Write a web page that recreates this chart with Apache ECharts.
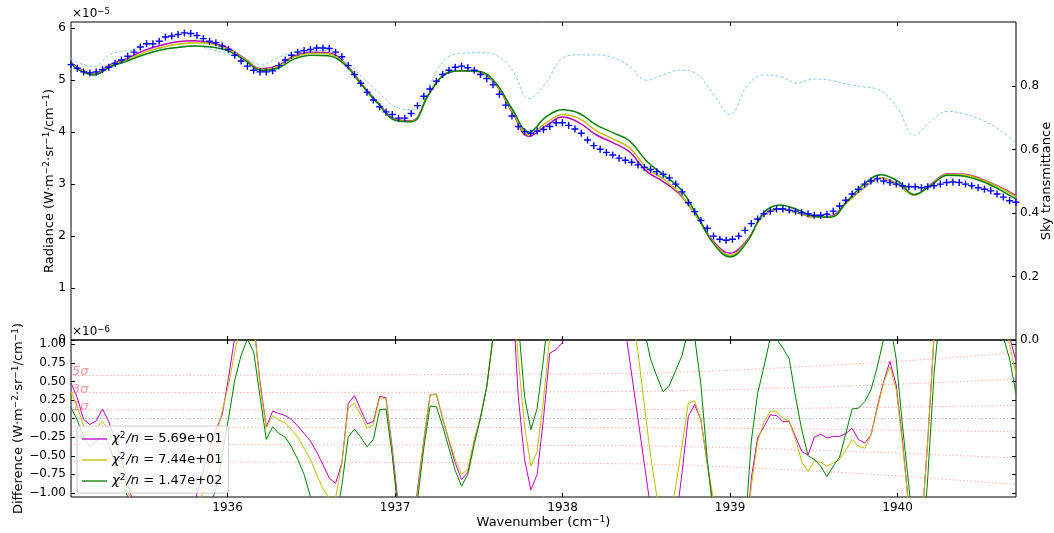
<!DOCTYPE html>
<html><head><meta charset="utf-8">
<script src="https://cdn.jsdelivr.net/npm/echarts@6/dist/echarts.min.js"></script>
<style>html,body{margin:0;padding:0;background:#fff}#c{width:1054px;height:533px}</style>
</head><body><div id="c"></div>
<script>
// ---------- data ----------
const xMin = 1935.065, xMax = 1940.707;
const obsStart = 1935.065, obsStep = 0.03761;   // spectral sampling grid of the measurement
const obsRadiance = [
5.30,5.23,5.16,5.14,5.16,5.20,5.25,5.32,5.39,5.46,
5.54,5.64,5.70,5.70,5.75,5.83,5.85,5.88,5.91,5.90,
5.86,5.80,5.75,5.72,5.66,5.59,5.48,5.37,5.27,5.19,
5.16,5.16,5.18,5.28,5.39,5.48,5.54,5.57,5.59,5.62,
5.62,5.61,5.54,5.45,5.28,5.11,4.94,4.77,4.62,4.49,
4.39,4.34,4.27,4.27,4.36,4.51,4.69,4.83,4.98,5.11,
5.19,5.25,5.27,5.24,5.19,5.11,5.03,4.91,4.73,4.52,
4.31,4.11,4.01,3.98,4.02,4.05,4.11,4.18,4.18,4.13,
4.06,3.98,3.85,3.74,3.67,3.61,3.56,3.50,3.46,3.42,
3.37,3.32,3.28,3.24,3.19,3.12,3.00,2.85,2.64,2.47,
2.30,2.15,2.00,1.94,1.92,1.94,2.00,2.11,2.24,2.33,
2.43,2.48,2.52,2.52,2.50,2.48,2.45,2.43,2.40,2.40,
2.42,2.48,2.58,2.69,2.81,2.90,3.00,3.06,3.10,3.06,
3.03,3.00,2.97,2.95,2.95,2.93,2.95,2.97,3.00,3.03,
3.04,3.03,3.00,2.97,2.93,2.90,2.87,2.81,2.75,2.68,
2.65];

const modelX = [1935.065,1935.1,1935.2,1935.3,1935.4,1935.5,1935.6,1935.7,1935.8,1935.9,
1936.0,1936.1,1936.2,1936.3,1936.4,1936.5,1936.6,1936.7,1936.8,1936.9,
1937.0,1937.1,1937.2,1937.3,1937.4,1937.5,1937.6,1937.7,1937.8,1937.9,
1938.0,1938.1,1938.2,1938.3,1938.4,1938.5,1938.6,1938.7,1938.8,1938.9,
1939.0,1939.1,1939.2,1939.3,1939.4,1939.5,1939.6,1939.7,1939.8,1939.9,
1940.0,1940.1,1940.2,1940.3,1940.4,1940.5,1940.6,1940.707];
const modelM = [5.36,5.25,5.13,5.30,5.42,5.57,5.67,5.74,5.76,5.72,
5.62,5.42,5.22,5.28,5.47,5.54,5.53,5.33,4.93,4.56,
4.25,4.22,4.73,5.12,5.18,5.16,4.92,4.38,3.92,4.12,
4.29,4.18,3.95,3.80,3.62,3.25,3.05,2.80,2.38,1.90,
1.67,1.92,2.40,2.52,2.45,2.37,2.38,2.66,2.93,3.12,
3.00,2.79,3.00,3.20,3.19,3.10,2.96,2.78];
const modelY = [5.35,5.24,5.12,5.28,5.40,5.53,5.63,5.69,5.72,5.70,
5.60,5.41,5.21,5.26,5.45,5.52,5.51,5.32,4.92,4.55,
4.24,4.21,4.73,5.12,5.18,5.16,4.93,4.40,3.95,4.18,
4.34,4.26,4.03,3.87,3.70,3.32,3.10,2.82,2.38,1.88,
1.63,1.90,2.40,2.52,2.45,2.37,2.37,2.65,2.93,3.12,
3.00,2.79,2.99,3.19,3.18,3.09,2.95,2.76];
const modelG = [5.33,5.22,5.10,5.26,5.37,5.49,5.58,5.63,5.66,5.64,
5.57,5.39,5.19,5.23,5.41,5.48,5.47,5.30,4.91,4.54,
4.23,4.20,4.72,5.12,5.18,5.17,4.95,4.44,4.00,4.29,
4.43,4.36,4.14,3.99,3.83,3.45,3.18,2.92,2.42,1.86,
1.60,1.88,2.45,2.60,2.51,2.38,2.36,2.68,3.00,3.18,
3.06,2.80,2.98,3.17,3.15,3.06,2.91,2.71];
const transmittance = [0.888,0.875,0.862,0.900,0.911,0.915,0.918,0.922,0.927,0.915,
0.900,0.885,0.868,0.890,0.907,0.911,0.912,0.880,0.830,0.780,
0.735,0.725,0.800,0.885,0.903,0.905,0.898,0.850,0.760,0.810,
0.888,0.898,0.898,0.890,0.862,0.818,0.835,0.850,0.838,0.775,
0.710,0.800,0.835,0.830,0.809,0.822,0.818,0.805,0.797,0.785,
0.730,0.645,0.690,0.720,0.712,0.694,0.665,0.620];

const diffM = [0.48,0.28,-0.01,-0.08,-0.03,0.13,-0.04,-0.28,-0.55,-0.85,
-1.2,-1.5,-1.7,-1.9,-2.1,-2.3,-2.4,-2.3,-2.1,-1.6,
-1.0,-0.7,-0.4,-0.15,0.05,0.55,1.1,1.6,1.8,1.3,
0.5,-0.11,0.10,0.07,0.04,-0.01,-0.10,-0.2,-0.3,-0.45,
-0.62,-0.8,-0.87,-0.6,0.2,0.31,0.12,-0.07,-0.04,0.30,
0.28,-0.4,-1.2,-2.0,-1.8,-0.95,-0.3,0.32,0.33,0.0,
-0.3,-0.6,-0.82,-0.72,-0.3,0.02,0.43,1.1,1.8,2.2,
1.8,0.3,-0.55,-0.96,-0.75,0.0,0.88,0.93,1.02,1.3,
1.6,1.9,2.1,2.2,2.3,2.2,2.0,1.6,1.2,0.6,
0.0,-0.6,-1.2,-1.7,-1.9,-1.8,-1.4,-0.73,0.03,0.19,
-0.02,-0.6,-1.2,-2.0,-2.6,-2.8,-2.5,-1.8,-0.8,-0.26,
-0.11,0.05,0.04,-0.04,-0.04,-0.24,-0.44,-0.49,-0.25,-0.21,
-0.26,-0.24,-0.24,-0.20,-0.13,-0.28,-0.33,-0.22,0.16,0.50,
0.77,0.45,-0.3,-1.2,-2.0,-1.5,-0.3,1.1,1.8,2.2,
2.4,2.4,2.3,2.2,2.1,2.0,1.8,1.6,1.4,1.1,
0.78];
const diffY = [0.36,0.16,-0.10,-0.20,-0.12,-0.04,-0.15,-0.40,-0.65,-0.95,
-1.3,-1.6,-1.8,-2.0,-2.3,-2.4,-2.5,-2.4,-2.2,-1.8,
-1.3,-0.95,-0.55,-0.25,0.1,0.45,0.9,1.3,1.6,1.3,
0.45,-0.13,0.04,-0.02,-0.06,-0.15,-0.25,-0.40,-0.55,-0.75,
-0.95,-1.07,-1.07,-0.6,0.14,0.21,0.05,-0.13,-0.08,0.28,
0.27,-0.45,-1.3,-2.0,-1.8,-1.0,-0.3,0.32,0.33,0.0,
-0.28,-0.55,-0.75,-0.68,-0.3,0.02,0.43,1.1,1.8,2.2,
1.9,0.8,-0.1,-0.64,-0.44,0.25,1.1,1.4,1.6,1.8,
2.1,2.4,2.6,2.7,2.8,2.7,2.5,2.2,1.8,1.4,
0.9,0.2,-0.5,-1.05,-1.5,-1.4,-0.9,-0.37,0.21,0.24,
-0.02,-0.6,-1.1,-2.0,-2.7,-2.9,-2.6,-1.9,-0.9,-0.31,
-0.05,0.10,0.10,0.0,-0.03,-0.28,-0.58,-0.71,-0.57,-0.59,
-0.64,-0.60,-0.55,-0.42,-0.28,-0.37,-0.40,-0.22,0.13,0.48,
0.70,0.39,-0.35,-1.2,-2.0,-1.5,-0.3,1.1,1.8,2.1,
2.3,2.3,2.2,2.1,2.0,1.9,1.7,1.5,1.3,1.0,
0.6];
const diffG = [0.15,-0.02,-0.25,-0.38,-0.30,-0.20,-0.35,-0.60,-0.85,-1.05,
-1.5,-1.8,-2.1,-2.3,-2.6,-2.8,-2.9,-2.8,-2.6,-2.2,
-1.8,-1.4,-1.2,-0.95,-0.5,0.0,0.52,0.85,1.07,0.9,
0.3,-0.28,-0.11,-0.20,-0.25,-0.38,-0.55,-0.75,-1.05,-1.3,
-1.5,-1.5,-1.4,-0.9,-0.25,-0.14,-0.25,-0.38,-0.28,0.12,
0.13,-0.5,-1.3,-2.1,-1.9,-1.1,-0.4,0.17,0.16,-0.1,
-0.4,-0.7,-0.91,-0.75,-0.35,0.0,0.43,1.1,1.9,2.4,
2.4,1.3,0.30,-0.15,0.14,0.8,1.6,2.0,2.4,2.8,
3.2,3.6,3.9,4.0,4.1,4.0,3.8,3.4,2.8,2.2,
1.7,1.2,0.8,0.57,0.36,0.45,0.65,0.85,1.2,1.1,
0.45,-0.55,-1.3,-2.2,-2.9,-3.0,-2.5,-1.5,-0.3,0.34,
0.70,1.08,1.07,0.95,0.81,0.30,-0.15,-0.50,-0.55,-0.64,
-0.78,-0.64,-0.52,-0.20,0.13,0.14,0.23,0.39,0.70,1.07,
1.3,0.8,-0.1,-0.9,-1.8,-2.0,-0.8,0.6,1.5,2.0,
2.2,2.2,2.1,2.0,1.9,1.7,1.5,1.3,1.1,0.8,
0.34];

const sigmaX = [1935.065,1936.0,1937.0,1938.0,1938.5,1939.0,1939.5,1940.0,1940.707];
const sigma  = [0.116,0.117,0.118,0.120,0.122,0.130,0.141,0.154,0.177];
const sigmaLevels = [1,3,5];

const xTicks = [1936,1937,1938,1939,1940];
const radTicks = [0,1,2,3,4,5,6];
const transTicks = [0,0.2,0.4,0.6,0.8];
const diffTicks = [-1,-0.75,-0.5,-0.25,0,0.25,0.5,0.75,1];
const chiLabels = ['5.69e+01','7.44e+01','1.47e+02'];
const fitNames = ['fitM','fitY','fitG'];

// ---------- chart ----------
const FONT = 'DejaVu Sans';
const C_M = '#bf00bf', C_Y = '#bfbf00', C_G = '#008000';
const minus = s => s.replace('-', '\u2212');
const obsPts = obsRadiance.map((v,i)=>[obsStart + i*obsStep, v]);
const diffPts = arr => arr.map((v,i)=>[obsStart + i*obsStep, v]);
const modelPts = arr => arr.map((v,i)=>[modelX[i], v]);

const plus = 'path://M0,4H10V6H0Z M4,0H6V10H4Z';
const tickBase = {show:true, inside:true, length:4, lineStyle:{color:'#000', width:1}};
const noLine = {show:false, onZero:false};
const supRich = {s:{fontFamily:FONT, fontSize:9, verticalAlign:'top', padding:[0,0,6,0], color:'#000'}};
const titleStyle = {fontFamily:FONT, fontSize:13, color:'#000', rich:supRich};
const unitStr = '(W\u00B7m{s|\u22122}\u00B7sr{s|\u22121}/cm{s|\u22121})';

function xAx(grid, pos, labels){
  return {type:'value', gridIndex:grid, position:pos, min:xMin, max:xMax,
    axisLine:noLine, splitLine:{show:false},
    axisTick:Object.assign({customValues:xTicks}, tickBase),
    axisLabel: labels ? {show:true, customValues:xTicks, formatter:v=>String(Math.round(v)),
       fontFamily:FONT, fontSize:12, color:'#000', margin:5} : {show:false}};
}

const series = [];
series.push({type:'line', name:'trans', xAxisIndex:0, yAxisIndex:1, data:modelPts(transmittance),
  smooth:0.4, showSymbol:false, lineStyle:{color:'#87ceeb', width:1, type:[3,2]}, z:2, silent:true});
[[modelM,C_M],[modelY,C_Y],[modelG,C_G]].forEach(([a,c],k)=>{
  series.push({type:'line', name:'model'+k, xAxisIndex:0, yAxisIndex:0, data:modelPts(a),
    smooth:0.4, showSymbol:false, lineStyle:{color:c, width:1.5}, z:3, silent:true});
});
series.push({type:'scatter', name:'obs', xAxisIndex:0, yAxisIndex:0, data:obsPts,
  symbol:plus, symbolSize:7, itemStyle:{color:'#0000ff', opacity:1}, z:4, silent:true});

sigmaLevels.forEach(k=>{
  [1,-1].forEach(s=>{
    series.push({type:'line', name:'sig'+s*k, xAxisIndex:2, yAxisIndex:2,
      data:sigmaX.map((x,i)=>[x, s*k*sigma[i]]), showSymbol:false,
      lineStyle:{color:'rgba(255,90,90,0.6)', width:1, type:[1.2,2.4]}, z:1, silent:true});
  });
});
series.push({type:'line', name:'zero', xAxisIndex:2, yAxisIndex:2, data:[[xMin,0],[xMax,0]],
  showSymbol:false, lineStyle:{color:'#a0a0a0', width:1, type:[1.2,2.4]}, z:1, silent:true});
[[diffM,C_M],[diffY,C_Y],[diffG,C_G]].forEach(([a,c],k)=>{
  series.push({type:'line', name:fitNames[k], xAxisIndex:2, yAxisIndex:2, data:diffPts(a),
    showSymbol:false, lineStyle:{color:c, width:1}, itemStyle:{color:c}, z:3, silent:true, clip:true});
});

const chart = echarts.init(document.getElementById('c'), null, {renderer:'canvas'});
chart.setOption({
  animation:false,
  backgroundColor:'#fff',
  textStyle:{fontFamily:FONT},
  grid:[
    {left:71, top:22, width:945, height:318, show:true, borderColor:'#000', borderWidth:1, backgroundColor:'transparent', containLabel:false, outerBoundsMode:'none'},
    {left:71, top:340, width:945, height:157, show:true, borderColor:'#000', borderWidth:1, backgroundColor:'transparent', containLabel:false, outerBoundsMode:'none'}
  ],
  xAxis:[
    xAx(0,'bottom',false), xAx(0,'top',false),
    Object.assign(xAx(1,'bottom',true), {name:'Wavenumber (cm{s|\u22121})', nameLocation:'middle', nameGap:18,
      nameMoveOverlap:false, nameTextStyle:Object.assign({verticalAlign:'top'}, titleStyle)}),
    xAx(1,'top',false)
  ],
  yAxis:[
    {type:'value', gridIndex:0, position:'left', min:0, max:6.12,
     axisLine:noLine, splitLine:{show:false},
     axisTick:Object.assign({customValues:radTicks}, tickBase),
     axisLabel:{customValues:radTicks, formatter:v=>String(Math.round(v)), fontFamily:FONT, fontSize:12, color:'#000', margin:5},
     name:'Radiance '+unitStr, nameLocation:'middle', nameGap:14, nameRotate:90, nameMoveOverlap:false,
     nameTextStyle:titleStyle},
    {type:'value', gridIndex:0, position:'right', min:0, max:1.0016,
     axisLine:noLine, splitLine:{show:false},
     axisTick:Object.assign({customValues:transTicks}, tickBase),
     axisLabel:{customValues:transTicks, formatter:v=>v.toFixed(1), fontFamily:FONT, fontSize:12, color:'#000', margin:4}},
    {type:'value', gridIndex:1, position:'left', min:-1.055, max:1.058,
     axisLine:noLine, splitLine:{show:false},
     axisTick:Object.assign({customValues:diffTicks}, tickBase),
     axisLabel:{customValues:diffTicks, formatter:v=>minus(v.toFixed(2)), fontFamily:FONT, fontSize:12, color:'#000', margin:5},
     name:'Difference '+unitStr, nameLocation:'middle', nameGap:45, nameRotate:90, nameMoveOverlap:false,
     nameTextStyle:titleStyle},
    {type:'value', gridIndex:1, position:'right', min:-1.055, max:1.058,
     axisLine:noLine, splitLine:{show:false},
     axisTick:Object.assign({customValues:diffTicks}, tickBase),
     axisLabel:{show:false}}
  ],
  legend:{
    data:fitNames, orient:'vertical', left:77, top:426, icon:'rect', itemWidth:25, itemHeight:1.3,
    itemGap:5, padding:[5,6,4,5], backgroundColor:'rgba(255,255,255,0.8)', borderColor:'#cccccc', borderWidth:1, borderRadius:3,
    selectedMode:false,
    formatter:n=>'{it|\u03C7}{sup|2}{it|/n}{t| = '+chiLabels[fitNames.indexOf(n)]+'}',
    textStyle:{fontFamily:FONT, fontSize:13, color:'#000', lineHeight:16,
      rich:{it:{fontStyle:'italic', fontSize:13, fontFamily:FONT}, t:{fontSize:13, fontFamily:FONT},
            sup:{fontSize:9, fontFamily:FONT, verticalAlign:'top', padding:[0,1,5,0]}}}
  },
  series:series
});

const g = [];
const o5 = chart.convertToPixel({gridIndex:0}, [xMin, 6.12]);
g.push({type:'text', left:o5[0]+1, top:o5[1]-15, style:{text:'{a|\u00D710}{b|\u22125}', fill:'#000',
  rich:{a:{fontFamily:FONT, fontSize:12, lineHeight:14}, b:{fontFamily:FONT, fontSize:8.5, verticalAlign:'top', padding:[0,0,5,0]}}}});
const o6 = chart.convertToPixel({gridIndex:1}, [xMin, 1.058]);
g.push({type:'text', left:o6[0]+1, top:o6[1]-15, style:{text:'{a|\u00D710}{b|\u22126}', fill:'#000',
  rich:{a:{fontFamily:FONT, fontSize:12, lineHeight:14}, b:{fontFamily:FONT, fontSize:8.5, verticalAlign:'top', padding:[0,0,5,0]}}}});
// right-hand axis title, placed next to the transmittance axis
const rTop = chart.convertToPixel({xAxisIndex:0, yAxisIndex:1}, [xMax, 1.0016]);
const rBot = chart.convertToPixel({xAxisIndex:0, yAxisIndex:1}, [xMax, 0]);
g.push({type:'text', x:rTop[0]+31, y:(rTop[1]+rBot[1])/2, rotation:Math.PI/2,
  style:{text:'Sky transmittance', fill:'#000', fontFamily:FONT, fontSize:13, align:'center', verticalAlign:'middle'}});
sigmaLevels.forEach(k=>{
  const p = chart.convertToPixel({gridIndex:1}, [sigmaX[0], k*sigma[0]]);
  g.push({type:'text', x:p[0]+1, y:p[1]+3, style:{text:k+'\u03C3', fill:'rgba(255,110,110,0.7)',
    fontFamily:FONT, fontSize:13, fontStyle:'italic', verticalAlign:'bottom', align:'left'}, z:5});
});
chart.setOption({graphic:g});
</script></body></html>
